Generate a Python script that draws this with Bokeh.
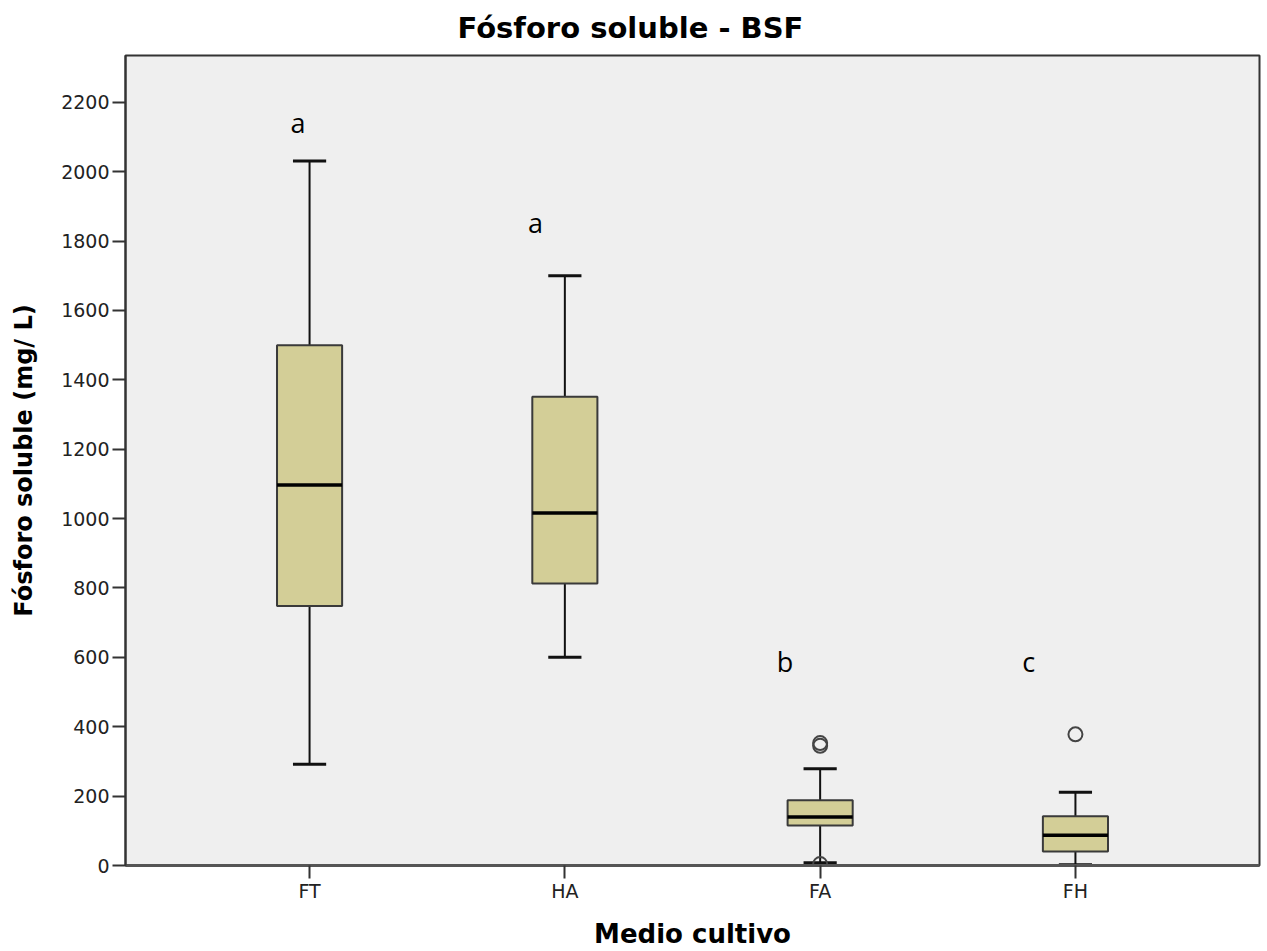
from bokeh.plotting import figure
from bokeh.models import ColumnDataSource, FactorRange, FixedTicker
from bokeh.transform import dodge
from bokeh.core.properties import value
from bokeh.embed import file_html
from bokeh.resources import INLINE

# ---- data ----
categories = ["FT", "HA", "FA", "FH"]
lower_whisker = [292, 600, 8, 2]
q1 = [748, 813, 115, 40]
median = [1097, 1016, 140, 87]
q3 = [1500, 1351, 188, 142]
upper_whisker = [2031, 1700, 279, 211]

outlier_cat = ["FA", "FA", "FA", "FH"]
outlier_val = [345, 353, 4, 378]

letter_text = ["a", "a", "b", "c"]
letter_y = [2142, 1853, 589, 589]
letter_shift = [-0.045, -0.115, -0.138, -0.183]

y_ticks = list(range(0, 2201, 200))
title_text = "Fósforo soluble - BSF"

BOX_FILL = "#D3CE97"
BG = "#EFEFEF"

p = figure(
    width=1267, height=951,
    x_range=FactorRange(factors=categories, range_padding=0.1105),
    y_range=(0, 2335),
    output_backend="svg", toolbar_location=None,
    title=title_text,
    min_border_left=125, min_border_right=8, min_border_top=55, min_border_bottom=10,
)

src = ColumnDataSource(dict(cat=categories, lw=lower_whisker, q1=q1, med=median,
                            q3=q3, uw=upper_whisker))

# whiskers
p.segment(x0="cat", y0="q3", x1="cat", y1="uw", source=src, line_color="#111111", line_width=2)
p.segment(x0="cat", y0="lw", x1="cat", y1="q1", source=src, line_color="#111111", line_width=2)
# caps
p.segment(x0=dodge("cat", -0.065, range=p.x_range), y0="uw",
          x1=dodge("cat", 0.065, range=p.x_range), y1="uw",
          source=src, line_color="#111111", line_width=3)
p.segment(x0=dodge("cat", -0.065, range=p.x_range), y0="lw",
          x1=dodge("cat", 0.065, range=p.x_range), y1="lw",
          source=src, line_color="#111111", line_width=3)
# boxes
p.vbar(x="cat", width=0.255, bottom="q1", top="q3", source=src,
       fill_color=BOX_FILL, line_color="#3a3a3a", line_width=2)
# medians
p.segment(x0=dodge("cat", -0.1275, range=p.x_range), y0="med",
          x1=dodge("cat", 0.1275, range=p.x_range), y1="med",
          source=src, line_color="#000000", line_width=3.5)

# outliers
osrc = ColumnDataSource(dict(cat=outlier_cat, val=outlier_val))
p.scatter(x="cat", y="val", source=osrc, marker="circle", size=14,
          fill_color=None, line_color="#444444", line_width=2)

# significance letters
for t, yv, sh, c in zip(letter_text, letter_y, letter_shift, categories):
    lsrc = ColumnDataSource(dict(cat=[c], y=[yv], t=[t]))
    p.text(x=dodge("cat", sh, range=p.x_range), y="y", text="t", source=lsrc,
           text_font=value("Open Sans"), text_font_size="27px",
           text_align="center", text_baseline="alphabetic", text_color="#000000")

# styling
p.background_fill_color = BG
p.border_fill_color = "white"
p.xgrid.visible = False
p.ygrid.visible = False
p.outline_line_color = "#333333"
p.outline_line_width = 2

p.title.text_font = "DejaVu Sans"
p.title.text_font_style = "bold"
p.title.text_font_size = "29px"
p.title.align = "left"
p.title.offset = 332
p.title.standoff = 18
p.title.text_line_height = 0.8
p.title.vertical_align = "top"
p.title.text_color = "#000000"

p.yaxis.ticker = FixedTicker(ticks=y_ticks)
p.yaxis.minor_tick_line_color = None
p.yaxis.major_tick_in = 0
p.yaxis.major_tick_out = 13
p.yaxis.major_tick_line_width = 2
p.yaxis.major_tick_line_color = "#333333"
p.yaxis.axis_line_color = "#333333"
p.yaxis.axis_line_width = 2
p.yaxis.major_label_text_font = "DejaVu Sans"
p.yaxis.major_label_text_font_size = "19px"
p.yaxis.major_label_text_color = "#222222"
p.yaxis.major_label_standoff = 3
p.yaxis.axis_label = "Fósforo soluble (mg/ L)"
p.yaxis.axis_label_text_font = "DejaVu Sans"
p.yaxis.axis_label_text_font_style = "bold"
p.yaxis.axis_label_text_font_size = "24px"
p.yaxis.axis_label_text_color = "#000000"
p.yaxis.axis_label_standoff = 20

p.xaxis.major_tick_in = 0
p.xaxis.major_tick_out = 13
p.xaxis.major_tick_line_width = 2
p.xaxis.major_tick_line_color = "#333333"
p.xaxis.axis_line_color = "#555555"
p.xaxis.axis_line_width = 3
p.xaxis.major_label_text_font = "DejaVu Sans"
p.xaxis.major_label_text_font_size = "19px"
p.xaxis.major_label_text_color = "#222222"
p.xaxis.major_label_standoff = 1
p.xaxis.axis_label = "Medio cultivo"
p.xaxis.axis_label_text_font = "DejaVu Sans"
p.xaxis.axis_label_text_font_style = "bold"
p.xaxis.axis_label_text_font_size = "26px"
p.xaxis.axis_label_text_color = "#000000"
p.xaxis.axis_label_standoff = 14

open("out.html", "w").write(file_html(p, INLINE))
